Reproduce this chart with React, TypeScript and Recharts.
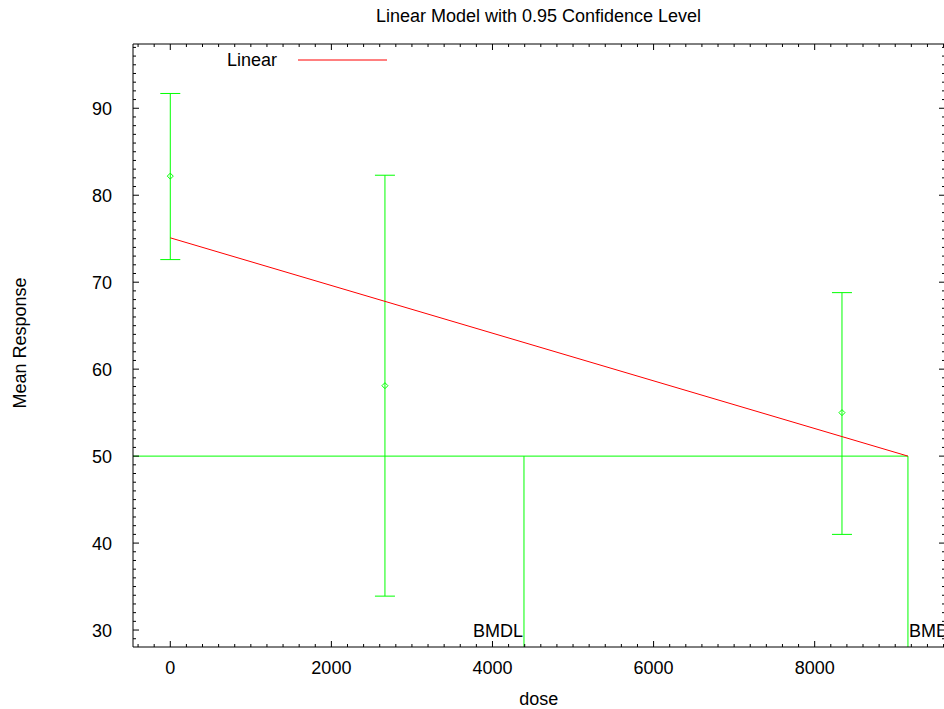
import React from 'react';
import { ComposedChart, XAxis, YAxis, Scatter, Line, ErrorBar } from 'recharts';

// ---- data ----
const doses = [0, 2665, 8339];
const means = [82.2, 58.1, 55.0];
const lowerCI = [72.6, 33.9, 41.0];
const upperCI = [91.7, 82.3, 68.8];

const fitDoses = [0, 9158];
const fitValues = [75.1, 50.0];

const bmrResponse = 50;
const bmdlDose = 4391;
const bmdDose = 9158;

const xDomain: [number, number] = [-463, 9618];
const yDomain: [number, number] = [28.05, 97.39];
const xMajorTicks = [0, 2000, 4000, 6000, 8000];
const yMajorTicks = [30, 40, 50, 60, 70, 80, 90];

const xAllTicks: number[] = [];
for (let v = -400; v <= 9600; v += 200) xAllTicks.push(v);
const yAllTicks: number[] = [];
for (let v = 29; v <= 97; v += 1) yAllTicks.push(v);

const titleText = 'Linear Model with 0.95 Confidence Level';
const xLabel = 'dose';
const yLabel = 'Mean Response';
const legendLabel = 'Linear';

// ---- derived tables ----
const obsData = doses.map((d, i) => ({
  dose: d,
  mean: means[i],
  err: [means[i] - lowerCI[i], upperCI[i] - means[i]],
}));
const fitData = fitDoses.map((d, i) => ({ dose: d, fit: fitValues[i] }));
const bmdPath = [
  { dose: xDomain[0], r: bmrResponse },
  { dose: bmdDose, r: bmrResponse },
  { dose: bmdDose, r: yDomain[0] },
];
const bmdlPath = [
  { dose: bmdlDose, r: bmrResponse },
  { dose: bmdlDose, r: yDomain[0] },
];
const bmdLabels = [
  { dose: bmdlDose, r: yDomain[0], label: 'BMDL' },
  { dose: bmdDose, r: yDomain[0], label: 'BMD' },
];

const FONT = '"Liberation Sans", Arial, Helvetica, sans-serif';
const GREEN = '#00ff00';
const RED = '#ff0000';

const isMajorX = (v: number) => xMajorTicks.includes(v);
const isMajorY = (v: number) => yMajorTicks.includes(v);

const BottomTick = (p: any) => {
  const v = p.payload.value;
  const major = isMajorX(v);
  return (
    <g>
      <line x1={p.x} y1={p.y} x2={p.x} y2={p.y - (major ? 6 : 3)} stroke="#000" strokeWidth={1} />
      {major && (
        <text x={p.x} y={p.y + 27} textAnchor="middle" fontSize={18} fontFamily={FONT} fill="#000">
          {v}
        </text>
      )}
    </g>
  );
};
const TopTick = (p: any) => {
  const major = isMajorX(p.payload.value);
  return <line x1={p.x} y1={p.y} x2={p.x} y2={p.y + (major ? 6 : 3)} stroke="#000" strokeWidth={1} />;
};
const LeftTick = (p: any) => {
  const v = p.payload.value;
  const major = isMajorY(v);
  return (
    <g>
      <line x1={p.x} y1={p.y} x2={p.x + (major ? 6 : 3)} y2={p.y} stroke="#000" strokeWidth={1} />
      {major && (
        <text x={p.x - 21} y={p.y + 7} textAnchor="end" fontSize={18} fontFamily={FONT} fill="#000">
          {v}
        </text>
      )}
    </g>
  );
};
const RightTick = (p: any) => {
  const major = isMajorY(p.payload.value);
  return <line x1={p.x} y1={p.y} x2={p.x - (major ? 6 : 3)} y2={p.y} stroke="#000" strokeWidth={1} />;
};

const MeanMarker = (p: any) => {
  const { cx, cy } = p;
  if (cx == null || cy == null) return null;
  const r = 3;
  return (
    <path
      d={`M${cx},${cy - r}L${cx + r},${cy}L${cx},${cy + r}L${cx - r},${cy}Z`}
      fill="none"
      stroke={GREEN}
      strokeWidth={1}
    />
  );
};

const NoShape = () => <g />;

const BmdText = (p: any) => {
  const { cx, cy, payload } = p;
  if (cx == null || cy == null) return null;
  const isL = payload.label === 'BMDL';
  return (
    <text
      x={cx + (isL ? -1 : 1)}
      y={cy - 10}
      textAnchor={isL ? 'end' : 'start'}
      fontSize={18}
      fontFamily={FONT}
      fill="#000"
    >
      {payload.label}
    </text>
  );
};

export default function App() {
  return (
    <div
      style={{
        position: 'absolute',
        left: 0,
        top: 0,
        width: 944,
        height: 709,
        overflow: 'hidden',
        background: '#fff',
        fontFamily: FONT,
      }}
    >
      <ComposedChart width={960} height={709} margin={{ top: 43, right: 14, bottom: 0, left: 0 }}>
        <XAxis
          xAxisId="main"
          type="number"
          dataKey="dose"
          domain={xDomain}
          allowDataOverflow
          ticks={xAllTicks}
          interval={0}
          orientation="bottom"
          height={62}
          tickSize={0}
          tickMargin={0}
          tickLine={false}
          tick={BottomTick}
          axisLine={{ stroke: '#000', strokeWidth: 1 }}
        />
        <XAxis
          xAxisId="top"
          type="number"
          dataKey="dose"
          domain={xDomain}
          allowDataOverflow
          ticks={xAllTicks}
          interval={0}
          orientation="top"
          height={1}
          tickSize={0}
          tickMargin={0}
          tickLine={false}
          tick={TopTick}
          axisLine={{ stroke: '#000', strokeWidth: 1 }}
        />
        <YAxis
          yAxisId="main"
          type="number"
          domain={yDomain}
          allowDataOverflow
          ticks={yAllTicks}
          interval={0}
          orientation="left"
          width={133}
          tickSize={0}
          tickMargin={0}
          tickLine={false}
          tick={LeftTick}
          axisLine={{ stroke: '#000', strokeWidth: 1 }}
        />
        <YAxis
          yAxisId="right"
          type="number"
          domain={yDomain}
          allowDataOverflow
          ticks={yAllTicks}
          interval={0}
          orientation="right"
          width={1}
          tickSize={0}
          tickMargin={0}
          tickLine={false}
          tick={RightTick}
          axisLine={{ stroke: '#000', strokeWidth: 1 }}
        />

        {/* invisible series that binds the mirrored top/right frame axes */}
        <Scatter
          xAxisId="top"
          yAxisId="right"
          data={fitData}
          dataKey="fit"
          shape={NoShape}
          isAnimationActive={false}
        />

        <Line
          xAxisId="main"
          yAxisId="main"
          data={bmdPath}
          dataKey="r"
          type="linear"
          stroke={GREEN}
          strokeWidth={1}
          dot={false}
          activeDot={false}
          isAnimationActive={false}
        />
        <Line
          xAxisId="main"
          yAxisId="main"
          data={bmdlPath}
          dataKey="r"
          type="linear"
          stroke={GREEN}
          strokeWidth={1}
          dot={false}
          activeDot={false}
          isAnimationActive={false}
        />
        <Scatter
          xAxisId="main"
          yAxisId="main"
          data={obsData}
          dataKey="mean"
          shape={MeanMarker}
          isAnimationActive={false}
        >
          <ErrorBar dataKey="err" direction="y" width={10} stroke={GREEN} strokeWidth={1} isAnimationActive={false} />
        </Scatter>
        <Line
          xAxisId="main"
          yAxisId="main"
          data={fitData}
          dataKey="fit"
          type="linear"
          stroke={RED}
          strokeWidth={1}
          dot={false}
          activeDot={false}
          isAnimationActive={false}
        />
        <Scatter
          xAxisId="main"
          yAxisId="main"
          data={bmdLabels}
          dataKey="r"
          shape={BmdText}
          isAnimationActive={false}
        />
      </ComposedChart>

      <svg
        width={944}
        height={709}
        style={{ position: 'absolute', left: 0, top: 0, pointerEvents: 'none' }}
      >
        <text x={538.5} y={22} textAnchor="middle" fontSize={18} fontFamily={FONT} fill="#000">
          {titleText}
        </text>
        <text x={538.7} y={705} textAnchor="middle" fontSize={18} fontFamily={FONT} fill="#000">
          {xLabel}
        </text>
        <text
          transform="rotate(-90)"
          x={-343}
          y={26}
          textAnchor="middle"
          fontSize={18}
          fontFamily={FONT}
          fill="#000"
        >
          {yLabel}
        </text>
        <text x={277} y={66} textAnchor="end" fontSize={18} fontFamily={FONT} fill="#000">
          {legendLabel}
        </text>
        <line x1={298} y1={60} x2={387} y2={60} stroke={RED} strokeWidth={1} />
      </svg>
    </div>
  );
}
